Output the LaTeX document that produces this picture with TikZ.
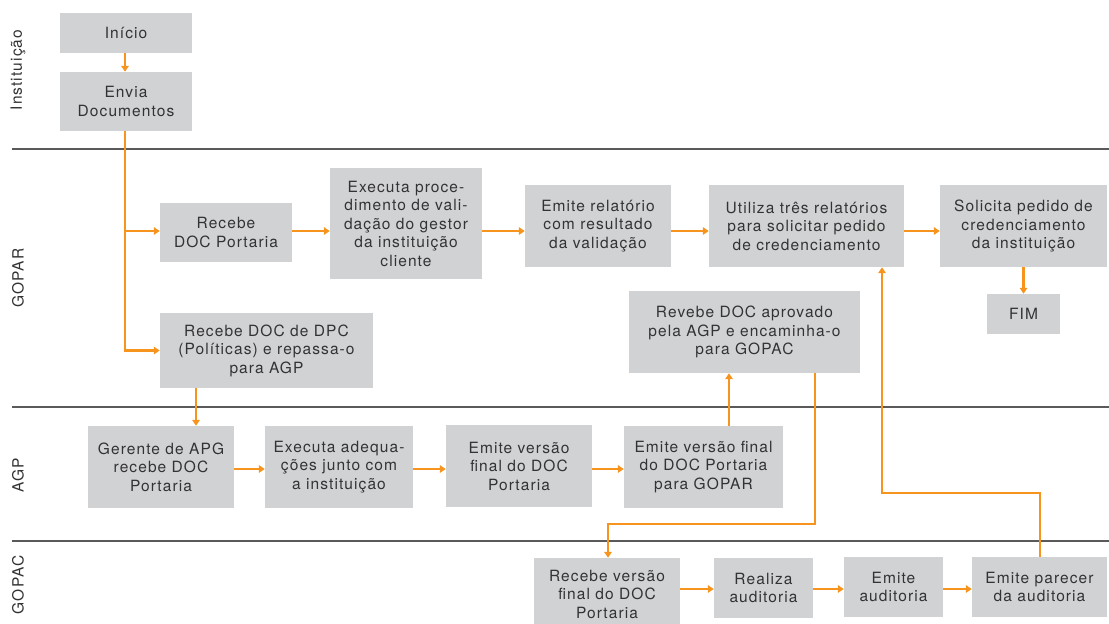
\documentclass[tikz,border=0pt]{standalone}
\usepackage{fontspec}
\setmainfont{TeX Gyre Heros}[LetterSpace=7]
\usetikzlibrary{arrows.meta}
\definecolor{boxgray}{HTML}{D1D2D4}
\definecolor{txt}{HTML}{333333}
\definecolor{arrorange}{HTML}{F7941D}
\definecolor{lanegray}{HTML}{5A5A5A}
\tikzset{
  box/.style={fill=boxgray, draw=none, inner sep=0pt, align=center, text=txt,
    font=\fontsize{15.5pt}{18.5pt}\selectfont},
  arr/.style={draw=arrorange, line width=2.4pt, -{Triangle[length=6pt,width=7.5pt]}},
  lane/.style={draw=lanegray, line width=1.2pt},
  lanelabel/.style={rotate=90, text=txt, font=\fontsize{15.5pt}{18pt}\selectfont}
}
\begin{document}
\begin{tikzpicture}[x=1pt,y=-1pt]
\useasboundingbox (0,0) rectangle (1109,624);
\clip (0,0) rectangle (1109,624);
% lanes
\draw[lane] (12,149) -- (1109,149);
\draw[lane] (12,407) -- (1109,407);
\draw[lane] (12,541) -- (1109,541);
\node[lanelabel] (l1) at (18,70) {Instituição};
\node[lanelabel] (l2) at (18,278) {GOPAR};
\node[lanelabel] (l3) at (18,475) {AGP};
\node[lanelabel] (l4) at (18,585) {GOPAC};
% boxes
\node[box, minimum width=132pt, minimum height=40pt] (ini) at (126,33) {\raisebox{-2pt}{Início}};
\node[box, minimum width=132pt, minimum height=59pt] (env) at (126,101.5) {Envia\\Documentos};
\node[box, minimum width=132pt, minimum height=59pt] (rdp) at (226,232.5) {Recebe\\DOC Portaria};
\node[box, minimum width=152pt, minimum height=111pt] (exe) at (406,223.5) {Executa proce-\\dimento de vali-\\dação do gestor\\da instituição\\cliente};
\node[box, minimum width=146pt, minimum height=82pt] (rel) at (598,226) {Emite relatório\\com resultado\\da validação};
\node[box, minimum width=195pt, minimum height=82pt] (uti) at (806.5,226) {Utiliza três relatórios\\para solicitar pedido\\de credenciamento};
\node[box, minimum width=167pt, minimum height=82pt] (sol) at (1023.5,226) {Solicita pedido de\\credenciamento\\da instituição};
\node[box, minimum width=73pt, minimum height=40pt] (fim) at (1023.5,314) {FIM};
\node[box, minimum width=213pt, minimum height=75pt] (dpc) at (266.5,350.5) {Recebe DOC de DPC\\(Políticas) e repassa-o\\para AGP};
\node[box, minimum width=231pt, minimum height=82pt] (rev) at (744.5,332) {Revebe DOC aprovado\\pela AGP e encaminha-o\\para GOPAC};
\node[box, minimum width=146pt, minimum height=82pt] (ger) at (161,467) {Gerente de APG\\recebe DOC\\Portaria};
\node[box, minimum width=148pt, minimum height=82pt] (ade) at (339,467) {Executa adequa-\\ções junto com\\a instituição};
\node[box, minimum width=146pt, minimum height=82pt] (evf) at (519,466) {Emite versão\\final do DOC\\Portaria};
\node[box, minimum width=159pt, minimum height=82pt] (evg) at (703.5,467) {Emite versão final\\do DOC Portaria\\para GOPAR};
\node[box, minimum width=146pt, minimum height=72pt] (rvf) at (607,594) {Recebe versão\\final do DOC\\Portaria};
\node[box, minimum width=99pt, minimum height=60pt] (rea) at (763.5,588) {Realiza\\auditoria};
\node[box, minimum width=99pt, minimum height=60pt] (ema) at (893.5,587) {Emite\\auditoria};
\node[box, minimum width=135pt, minimum height=60pt] (par) at (1039.5,587) {Emite parecer\\da auditoria};
% helper coordinates
\coordinate (r1) at (0,231);
\coordinate (r2) at (0,469);
\coordinate (r3) at (0,589);
\coordinate (cx1) at (125,0);
\coordinate (cx2) at (196,0);
\coordinate (cx3) at (729,0);
\coordinate (k1) at (815,524);
\coordinate (cx5) at (608,0);
\coordinate (k2) at (1040,493);
\coordinate (cx7) at (882,0);
% connectors
\draw[arr] (ini.south -| cx1) -- (env.north -| cx1);
\draw[arr] (env.south -| cx1) |- (rdp.west |- r1);
\draw[arr] (env.south -| cx1) |- (dpc.west);
\draw[arr] (rdp.east |- r1) -- (exe.west |- r1);
\draw[arr] (exe.east |- r1) -- (rel.west |- r1);
\draw[arr] (rel.east |- r1) -- (uti.west |- r1);
\draw[arr] (uti.east |- r1) -- (sol.west |- r1);
\draw[arr] (sol.south) -- (fim.north);
\draw[arr] (dpc.south -| cx2) -- (ger.north -| cx2);
\draw[arr] (ger.east |- r2) -- (ade.west |- r2);
\draw[arr] (ade.east |- r2) -- (evf.west |- r2);
\draw[arr] (evf.east |- r2) -- (evg.west |- r2);
\draw[arr] (evg.north -| cx3) -- (rev.south -| cx3);
\draw[arr] (rev.south -| k1) -- (k1) -| (rvf.north -| cx5);
\draw[arr] (par.north -| k2) -- (k2) -| (uti.south -| cx7);
\draw[arr] (rvf.east |- r3) -- (rea.west |- r3);
\draw[arr] (rea.east |- r3) -- (ema.west |- r3);
\draw[arr] (ema.east |- r3) -- (par.west |- r3);
\end{tikzpicture}
\end{document}
